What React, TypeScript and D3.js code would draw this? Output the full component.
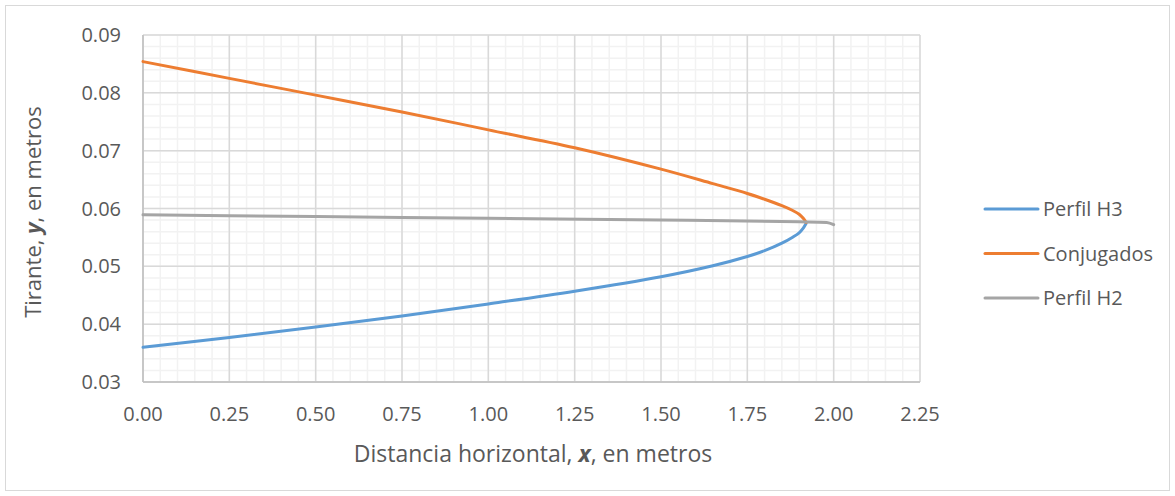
import React, { useEffect, useRef } from 'react';
import * as d3 from 'd3';

// Perfil H3 (x, y)
const h3X = [0, 0.25, 0.5, 0.75, 1.0, 1.25, 1.5, 1.65, 1.75, 1.8, 1.85, 1.88, 1.9, 1.912, 1.92];
const h3Y = [0.0360, 0.0377, 0.0395, 0.0414, 0.0435, 0.0457, 0.0482, 0.0501, 0.0517, 0.0527, 0.0540, 0.0550, 0.0558, 0.0566, 0.0574];
// Conjugados (x, y)
const conjX = [0, 0.25, 0.5, 0.75, 1.0, 1.25, 1.5, 1.65, 1.75, 1.8, 1.85, 1.88, 1.9, 1.912, 1.92];
const conjY = [0.0854, 0.0825, 0.0796, 0.0767, 0.0736, 0.0705, 0.0668, 0.0643, 0.0626, 0.0616, 0.0605, 0.0597, 0.0590, 0.0583, 0.0576];
// Perfil H2 (x, y)
const h2X = [0, 0.5, 1.0, 1.5, 1.9, 1.98, 2.0];
const h2Y = [0.0589, 0.0586, 0.0583, 0.0580, 0.0577, 0.0576, 0.0572];

const xTicks = [0, 0.25, 0.5, 0.75, 1.0, 1.25, 1.5, 1.75, 2.0, 2.25];
const yTicks = [0.03, 0.04, 0.05, 0.06, 0.07, 0.08, 0.09];

const seriesNames = ['Perfil H3', 'Conjugados', 'Perfil H2'];
const colors = ['#5B9BD5', '#ED7D31', '#A5A5A5'];

const FONT = '"Open Sans", sans-serif';

function App() {
  const ref = useRef<SVGSVGElement | null>(null);

  useEffect(() => {
    const width = 1175, height = 496;
    const margin = { top: 35, left: 143, right: 255, bottom: 114 };
    const svg = d3.select(ref.current);
    svg.selectAll('*').remove();

    svg.append('rect')
      .attr('x', 5.5).attr('y', 5.5)
      .attr('width', width - 11).attr('height', height - 11)
      .attr('fill', 'white').attr('stroke', '#D9D9D9');

    const x = d3.scaleLinear().domain([0, 2.25]).range([margin.left, width - margin.right]);
    const y = d3.scaleLinear().domain([0.03, 0.09]).range([height - margin.bottom, margin.top]);

    // minor grid
    const g = svg.append('g');
    g.selectAll('.vminor')
      .data(d3.range(0, 46).map(i => i * 0.05))
      .join('line')
      .attr('x1', d => x(d)).attr('x2', d => x(d))
      .attr('y1', y(0.03)).attr('y2', y(0.09))
      .attr('stroke', '#F2F2F2').attr('stroke-width', 1.5);
    g.selectAll('.hminor')
      .data(d3.range(0, 31).map(i => 0.03 + i * 0.002))
      .join('line')
      .attr('y1', d => y(d)).attr('y2', d => y(d))
      .attr('x1', x(0)).attr('x2', x(2.25))
      .attr('stroke', '#F2F2F2').attr('stroke-width', 1.5);
    // major grid
    g.selectAll('.vmajor')
      .data(xTicks)
      .join('line')
      .attr('x1', d => x(d)).attr('x2', d => x(d))
      .attr('y1', y(0.03)).attr('y2', y(0.09))
      .attr('stroke', '#D9D9D9').attr('stroke-width', 1.5);
    g.selectAll('.hmajor')
      .data(yTicks)
      .join('line')
      .attr('y1', d => y(d)).attr('y2', d => y(d))
      .attr('x1', x(0)).attr('x2', x(2.25))
      .attr('stroke', '#D9D9D9').attr('stroke-width', 1.5);

    // axes lines
    svg.append('line')
      .attr('x1', x(0)).attr('x2', x(2.25))
      .attr('y1', y(0.03)).attr('y2', y(0.03))
      .attr('stroke', '#BFBFBF').attr('stroke-width', 1.5);
    svg.append('line')
      .attr('x1', x(0)).attr('x2', x(0))
      .attr('y1', y(0.03)).attr('y2', y(0.09))
      .attr('stroke', '#BFBFBF').attr('stroke-width', 1.5);

    // tick labels
    svg.append('g').selectAll('text')
      .data(xTicks)
      .join('text')
      .attr('x', d => x(d)).attr('y', y(0.03) + 39)
      .attr('text-anchor', 'middle')
      .attr('fill', '#595959')
      .style('font-family', FONT).style('font-size', '20px')
      .text(d => d3.format('.2f')(d));
    svg.append('g').selectAll('text')
      .data(yTicks)
      .join('text')
      .attr('x', margin.left - 22).attr('y', d => y(d) + 7)
      .attr('text-anchor', 'end')
      .attr('fill', '#595959')
      .style('font-family', FONT).style('font-size', '20px')
      .text(d => d3.format('.2f')(d));

    // axis titles
    const xt = svg.append('text')
      .attr('x', 533).attr('y', 462)
      .attr('text-anchor', 'middle')
      .attr('fill', '#595959')
      .style('font-family', FONT).style('font-size', '23px');
    xt.append('tspan').text('Distancia horizontal, ');
    xt.append('tspan').attr('font-weight', 'bold').attr('font-style', 'italic').text('x');
    xt.append('tspan').text(', en metros');

    const yt = svg.append('text')
      .attr('transform', `translate(41,212) rotate(-90)`)
      .attr('text-anchor', 'middle')
      .attr('fill', '#595959')
      .style('font-family', FONT).style('font-size', '22px');
    yt.append('tspan').text('Tirante, ');
    yt.append('tspan').attr('font-weight', 'bold').attr('font-style', 'italic').text('y');
    yt.append('tspan').text(', en metros');

    // lines
    const series = [
      h3X.map((v, i) => [v, h3Y[i]]),
      conjX.map((v, i) => [v, conjY[i]]),
      h2X.map((v, i) => [v, h2Y[i]]),
    ];
    const curved = d3.line<number[]>()
      .x(d => x(d[0])).y(d => y(d[1]))
      .curve(d3.curveCatmullRom.alpha(0.5));
    const flat = d3.line<number[]>()
      .x(d => x(d[0])).y(d => y(d[1]))
      .curve(d3.curveMonotoneX);
    series.forEach((s, i) => {
      svg.append('path')
        .datum(s)
        .attr('d', i === 2 ? flat : curved)
        .attr('fill', 'none')
        .attr('stroke', colors[i])
        .attr('stroke-width', 3)
        .attr('stroke-linecap', 'round')
        .attr('stroke-linejoin', 'round');
    });

    // legend
    const legend = svg.append('g');
    seriesNames.forEach((name, i) => {
      const ly = 209 + i * 44.5;
      legend.append('line')
        .attr('x1', 985).attr('x2', 1038)
        .attr('y1', ly).attr('y2', ly)
        .attr('stroke', colors[i]).attr('stroke-width', 3)
        .attr('stroke-linecap', 'round');
      legend.append('text')
        .attr('x', 1043).attr('y', ly + 7)
        .attr('fill', '#595959')
        .style('font-family', FONT).style('font-size', '20px')
        .text(name);
    });
  }, []);

  return (
    <svg ref={ref} width={1175} height={496}
      style={{ position: 'absolute', left: 0, top: 0, display: 'block' }} />
  );
}

export default App;
